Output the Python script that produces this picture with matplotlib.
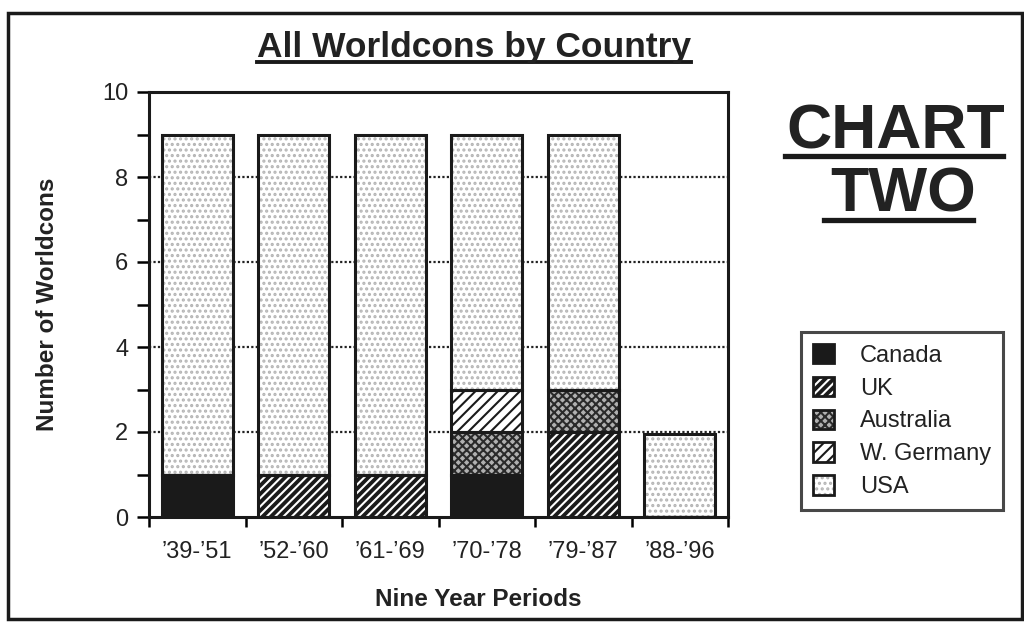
import numpy as np
import matplotlib
matplotlib.use("Agg")
import matplotlib.pyplot as plt
from matplotlib.patches import Patch, Rectangle
from matplotlib.lines import Line2D
from matplotlib.legend_handler import HandlerTuple

plt.rcParams['font.family'] = ['Liberation Sans', 'DejaVu Sans']
plt.rcParams['hatch.linewidth'] = 1.5

# data
periods = ["\u201939-\u201951", "\u201952-\u201960", "\u201961-\u201969",
           "\u201970-\u201978", "\u201979-\u201987", "\u201988-\u201996"]
countries = ["Canada", "UK", "Australia", "W. Germany", "USA"]
canada = [1, 0, 0, 1, 0, 0]
uk = [0, 1, 1, 0, 2, 0]
australia = [0, 0, 0, 1, 1, 0]
wgermany = [0, 0, 0, 1, 0, 0]
usa = [8, 8, 8, 6, 6, 1.95]
series = [canada, uk, australia, wgermany, usa]

# face colour, hatch, hatch colour for each country
styles = [
    ("#1a1a1a", None, "#1a1a1a"),
    ("#1a1a1a", "////", "white"),
    ("#b0b0b0", "xxxx", "#2a2a2a"),
    ("white", "///", "#1a1a1a"),
    ("white", "...", "#b4b4b4"),
]

fig = plt.figure(figsize=(10.24, 6.22), dpi=100)
W, H = 1024, 622

ax = fig.add_axes([149 / W, 105 / H, 579 / W, 425 / H])
x = np.arange(len(periods))
bottom = np.zeros(len(periods))
for vals, (fc, hatch, hc) in zip(series, styles):
    vals = np.array(vals, dtype=float)
    ax.bar(x, vals, 0.74, bottom=bottom, color=fc, hatch=hatch,
           edgecolor=hc, linewidth=0, zorder=2)
    ax.bar(x, vals, 0.74, bottom=bottom, fill=False,
           edgecolor="#1a1a1a", linewidth=2.2, zorder=3)
    bottom += vals

ax.set_xlim(-0.5, 5.5)
ax.set_ylim(0, 10)
ax.set_yticks([0, 2, 4, 6, 8, 10])
ax.set_yticks([1, 3, 5, 7, 9], minor=True)
ax.set_xticks(np.arange(-0.5, 6.0, 1.0))
ax.set_xticklabels([])
ax.set_xticks(x, minor=True)
ax.set_xticklabels(periods, minor=True)
ax.tick_params(axis='x', which='major', direction='out', length=7, width=1.8)
ax.tick_params(axis='x', which='minor', length=0, pad=17, labelsize=17,
               labelcolor="#222222")
ax.tick_params(axis='y', which='both', direction='out', length=9, width=1.8,
               labelsize=17, pad=6, labelcolor="#222222")
for s in ax.spines.values():
    s.set_linewidth(2.2)
    s.set_color("#1a1a1a")
for yv in [2, 4, 6, 8]:
    ax.axhline(yv, color="#222222", linestyle=(0, (1, 1)), linewidth=1.6,
               zorder=1)

ax.set_ylabel("Number of Worldcons", fontsize=17.5, fontweight='bold',
              color="#222222", va='center')
ax.yaxis.set_label_coords(-(149 - 48) / 579, 0.5)
ax.set_xlabel("Nine Year Periods", fontsize=17.5, fontweight='bold',
              color="#222222", va='center')
ax.xaxis.set_label_coords((478 - 149) / 579, -(600 - 517) / 425)

# outer frame
fig.patches.append(Rectangle((8 / W, 3 / H), 1014 / W, 606 / H,
                             transform=fig.transFigure, fill=False,
                             edgecolor="#1a1a1a", linewidth=2.5))

# legend
handles = []
for fc, hatch, hc in styles:
    handles.append((Patch(facecolor=fc, hatch=hatch, edgecolor=hc, linewidth=0),
                    Patch(fill=False, edgecolor="#1a1a1a", linewidth=2)))
leg = fig.legend(handles, countries, loc='center',
                 bbox_to_anchor=(902 / W, 1 - 421 / H),
                 handler_map={tuple: HandlerTuple(ndivide=1, pad=0)},
                 fontsize=17, frameon=True, fancybox=False,
                 handlelength=0.9, handleheight=0.9, handletextpad=1.1,
                 labelspacing=0.42, borderpad=0.5, borderaxespad=0,
                 labelcolor="#222222")
leg.get_frame().set_edgecolor("#1a1a1a")
leg.get_frame().set_linewidth(2.2)

# titles with underlines
title = fig.text(474 / W, 1 - 57 / H, "All Worldcons by Country",
                 ha='center', va='baseline', fontsize=25.5, fontweight='bold',
                 color="#222222")
fig.text(896 / W, 1 - 149 / H, "CHART", ha='center', va='baseline',
         fontsize=45, fontweight='bold', color="#222222")
fig.text(903 / W, 1 - 212 / H, "TWO", ha='center', va='baseline',
         fontsize=45, fontweight='bold', color="#222222")

fig.canvas.draw()
bb = title.get_window_extent(fig.canvas.get_renderer())
underlines = [((bb.x0, bb.x1), 62, 2.8), ((785, 1003), 156, 3.8),
              ((824, 973), 220, 3.8)]
for (x0, x1), yy, lw in underlines:
    fig.add_artist(Line2D([x0 / W, x1 / W], [1 - yy / H, 1 - yy / H],
                          transform=fig.transFigure, color="#1a1a1a",
                          linewidth=lw))

fig.savefig("out.png", dpi=100)
